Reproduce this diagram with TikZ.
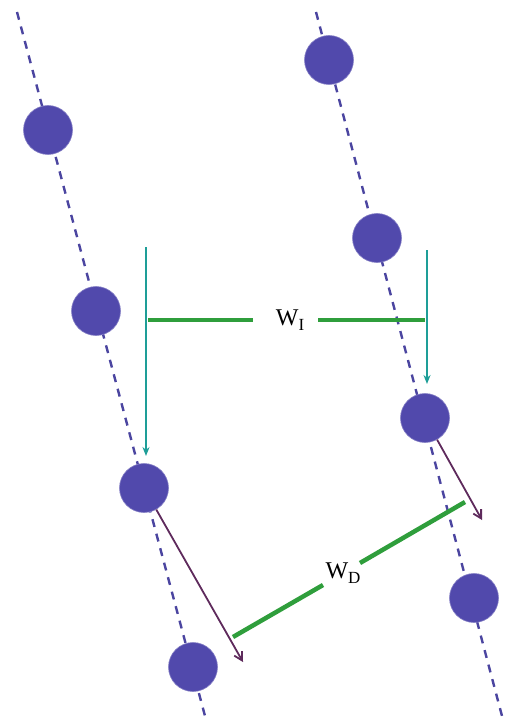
\documentclass[tikz,border=0pt]{standalone}
\usepackage{fontspec}
\setmainfont{Liberation Serif}
\usetikzlibrary{arrows.meta}
\definecolor{dotblue}{HTML}{5149AC}
\definecolor{lineblue}{HTML}{4B45A0}
\definecolor{tealc}{HTML}{1E9E98}
\definecolor{greenc}{HTML}{2F9E3C}
\definecolor{purplec}{HTML}{5E2A5C}
\tikzset{
  atom/.style={circle, fill=dotblue, draw=dotblue!70!white, line width=0.6pt, minimum size=49pt, inner sep=0pt},
  chain/.style={lineblue, line width=2.4pt, dash pattern=on 8pt off 7pt},
  droparrow/.style={tealc, line width=1.8pt, -{Stealth[length=9pt,width=7pt]}},
  movearrow/.style={purplec, line width=1.8pt, -{Straight Barb[length=8pt,width=9pt]}},
  wbar/.style={greenc, line width=4.5pt},
  lbl/.style={inner sep=0pt, font=\fontsize{24}{28}\selectfont}
}
\newcommand{\mysub}[1]{\raisebox{-0.4ex}{\fontsize{17}{20}\selectfont #1}}
\begin{document}
\begin{tikzpicture}[x=1pt,y=-1pt]
\useasboundingbox (0,0) rectangle (508,719);
% chains
\coordinate (lt) at (17,12);
\coordinate (lb) at (205,716);
\coordinate (rt) at (316,12);
\coordinate (rb) at (502,716);
\draw[chain] (lt) -- (lb);
\draw[chain] (rt) -- (rb);
% atoms
\node[atom] (l1) at (48,130) {};
\node[atom] (l2) at (96,311) {};
\node[atom] (l3) at (144,488) {};
\node[atom] (l4) at (193,667) {};
\node[atom] (r1) at (329,60) {};
\node[atom] (r2) at (377,238) {};
\node[atom] (r3) at (425,418) {};
\node[atom] (r4) at (474,598) {};
% teal drops
\coordinate (dl0) at (146,247);
\coordinate (dl1) at (146,456);
\coordinate (dr0) at (427,250);
\coordinate (dr1) at (427,384);
\draw[droparrow] (dl0) -- (dl1);
\draw[droparrow] (dr0) -- (dr1);
% W_I
\coordinate (wi0) at (148,320);
\coordinate (wi1) at (425,320);
\coordinate (wig0) at (253,320);
\coordinate (wig1) at (318,320);
\node[lbl] (wi) at (290,320) {W\mysub{I}};
\draw[wbar] (wi0) -- (wig0);
\draw[wbar] (wig1) -- (wi1);
% purple moves
\coordinate (pl1) at (243,662);
\coordinate (pr1) at (482,520);
\draw[movearrow] (l3) -- (pl1);
\draw[movearrow] (r3) -- (pr1);
% W_D
\coordinate (wd0) at (233,637);
\coordinate (wd1) at (465,502);
\coordinate (wdg0) at (323,585);
\coordinate (wdg1) at (360,563);
\node[lbl] (wd) at (343,573) {W\mysub{D}};
\draw[wbar] (wd0) -- (wdg0);
\draw[wbar] (wdg1) -- (wd1);
\end{tikzpicture}
\end{document}
